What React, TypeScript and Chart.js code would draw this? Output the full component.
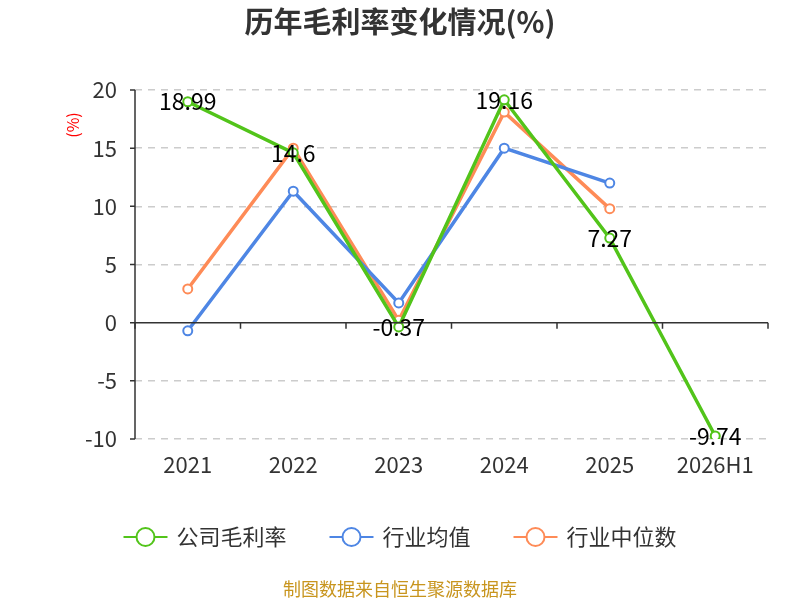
import React, { useRef, useEffect } from 'react'
import { Chart, registerables } from 'chart.js'

Chart.register(...registerables)

const years = ['2021', '2022', '2023', '2024', '2025', '2026H1']
const companyMargin = [18.99, 14.6, -0.37, 19.16, 7.27, -9.74]
const industryAvg = [-0.7, 11.3, 1.7, 15.0, 12.0, null]
const industryMedian = [2.9, 15.0, 0.2, 18.1, 9.8, null]
const seriesNames = ['公司毛利率', '行业均值', '行业中位数']
const seriesColors = ['#52c41a', '#4e86e4', '#fe8b57']

const FONT = '"Noto Sans CJK SC", "Noto Sans", sans-serif'

const decorPlugin = {
  id: 'decor',
  afterDraw(chart: any) {
    const { ctx, chartArea, scales } = chart
    const y = scales.y
    ctx.save()

    // title
    ctx.fillStyle = '#333'
    ctx.font = `bold 29px ${FONT}`
    ctx.textAlign = 'center'
    ctx.textBaseline = 'middle'
    ctx.fillText('历年毛利率变化情况(%)', 400, 22)

    // y axis title
    ctx.save()
    ctx.translate(73, 125)
    ctx.rotate(-Math.PI / 2)
    ctx.fillStyle = '#ff0000'
    ctx.font = `16px ${FONT}`
    ctx.fillText('(%)', 0, 0)
    ctx.restore()

    // y axis line + ticks
    ctx.strokeStyle = '#333'
    ctx.lineWidth = 1.5
    ctx.beginPath()
    ctx.moveTo(chartArea.left, chartArea.top)
    ctx.lineTo(chartArea.left, chartArea.bottom)
    y.ticks.forEach((t: any) => {
      const py = y.getPixelForValue(t.value)
      ctx.moveTo(chartArea.left - 5, py)
      ctx.lineTo(chartArea.left, py)
    })
    ctx.stroke()

    // x axis line at zero with boundary ticks
    const zy = y.getPixelForValue(0)
    ctx.beginPath()
    ctx.moveTo(chartArea.left, zy)
    ctx.lineTo(chartArea.right, zy)
    const step = (chartArea.right - chartArea.left) / years.length
    for (let i = 0; i <= years.length; i++) {
      const px = chartArea.left + i * step
      ctx.moveTo(px, zy)
      ctx.lineTo(px, zy + 6)
    }
    ctx.stroke()

    // data labels for company series
    const meta = chart.getDatasetMeta(0)
    ctx.fillStyle = '#000'
    ctx.font = `23px ${FONT}`
    ctx.textAlign = 'center'
    ctx.textBaseline = 'middle'
    meta.data.forEach((pt: any, i: number) => {
      ctx.fillText(String(companyMargin[i]), pt.x, pt.y)
    })

    // legend
    ctx.font = `22px ${FONT}`
    const iconW = 44
    const gapText = 9
    const itemGap = 43
    const widths = seriesNames.map((n) => iconW + gapText + ctx.measureText(n).width)
    const total = widths.reduce((a, b) => a + b, 0) + itemGap * (seriesNames.length - 1)
    let lx = 400 - total / 2
    const ly = 537
    seriesNames.forEach((n, i) => {
      ctx.strokeStyle = seriesColors[i]
      ctx.lineWidth = 2
      ctx.beginPath()
      ctx.moveTo(lx, ly)
      ctx.lineTo(lx + iconW, ly)
      ctx.stroke()
      ctx.beginPath()
      ctx.arc(lx + iconW / 2, ly, 9, 0, Math.PI * 2)
      ctx.fillStyle = '#fff'
      ctx.fill()
      ctx.stroke()
      ctx.fillStyle = '#333'
      ctx.textAlign = 'left'
      ctx.fillText(n, lx + iconW + gapText, ly)
      lx += widths[i] + itemGap
    })

    // footer
    ctx.fillStyle = '#c8951e'
    ctx.font = `18px ${FONT}`
    ctx.textAlign = 'center'
    ctx.fillText('制图数据来自恒生聚源数据库', 400, 589)

    ctx.restore()
  },
}

const App: React.FC = () => {
  const canvasRef = useRef<HTMLCanvasElement>(null)

  useEffect(() => {
    if (!canvasRef.current) return
    const ctx = canvasRef.current.getContext('2d')
    if (!ctx) return

    const mk = (label: string, data: (number | null)[], color: string) => ({
      label,
      data,
      borderColor: color,
      backgroundColor: '#fff',
      borderWidth: 3.5,
      pointRadius: 4.5,
      pointBorderWidth: 2,
      pointBackgroundColor: '#fff',
      pointBorderColor: color,
      tension: 0,
      spanGaps: false,
    })

    const chart = new Chart(ctx, {
      type: 'line',
      data: {
        labels: years,
        datasets: [
          mk(seriesNames[0], companyMargin, seriesColors[0]),
          mk(seriesNames[1], industryAvg, seriesColors[1]),
          mk(seriesNames[2], industryMedian, seriesColors[2]),
        ],
      },
      options: {
        animation: false,
        responsive: false,
        maintainAspectRatio: false,
        layout: { padding: { left: 0, right: 32, top: 90, bottom: 121 } },
        plugins: {
          legend: { display: false },
          title: { display: false },
          tooltip: { enabled: false },
        },
        scales: {
          x: {
            offset: true,
            grid: { display: false, drawTicks: false, offset: true },
            border: { display: false },
            ticks: { color: '#333', font: { size: 22, family: FONT }, padding: 12 },
            afterFit: (s: any) => {
              s.height = 40
            },
          },
          y: {
            min: -10,
            max: 20,
            afterFit: (s: any) => {
              s.width = 135
            },
            ticks: {
              stepSize: 5,
              color: '#333',
              font: { size: 22, family: FONT },
              padding: 18,
            },
            border: { display: false, dash: [7, 6] },
            grid: {
              drawTicks: false,
              lineWidth: 1.5,
              color: (c: any) => (c.tick && c.tick.value === 0 ? 'rgba(0,0,0,0)' : '#ccc'),
            },
          },
        },
      },
      plugins: [decorPlugin],
    })

    return () => {
      chart.destroy()
    }
  }, [])

  return (
    <div style={{ position: 'fixed', left: 0, top: 0, width: 800, height: 600, background: '#fff' }}>
      <canvas ref={canvasRef} width={800} height={600} style={{ width: 800, height: 600, display: 'block' }} />
    </div>
  )
}

export default App
